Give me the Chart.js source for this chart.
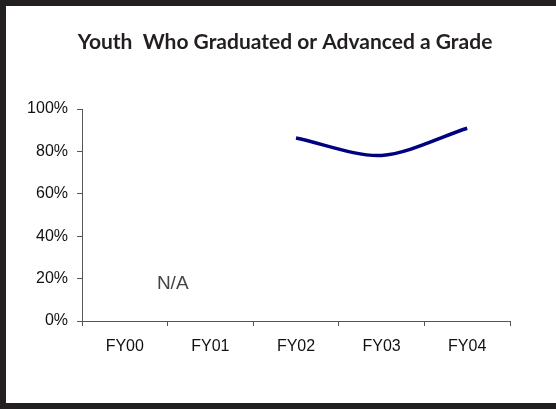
<!DOCTYPE html>
<html>
<head>
<meta charset="utf-8">
<script src="https://cdn.jsdelivr.net/npm/chart.js@4/dist/chart.umd.min.js"></script>
<style>
  html, body { margin: 0; padding: 0; background: #fff; }
  #wrap { width: 556px; height: 409px; position: relative; }
</style>
</head>
<body>
<div id="wrap"><canvas id="chart" width="556" height="409"></canvas></div>
<script>
let years = ['FY00', 'FY01', 'FY02', 'FY03', 'FY04'];
let graduated = [null, null, 86.3, 78.1, 90.9];
let yTicks = [0, 20, 40, 60, 80, 100];
let noteText = 'N/A';

// frame + N/A note
const framePlugin = {
    id: 'frame',
    beforeDraw(chart) {
        const c = chart.ctx;
        c.save();
        c.fillStyle = '#fff';
        c.fillRect(0, 0, chart.width, chart.height);
        c.restore();
    },
    afterDraw(chart) {
        const c = chart.ctx;
        const xs = chart.scales.x, ys = chart.scales.y;
        c.save();
        c.fillStyle = '#444';
        c.font = '19px "Liberation Sans", Arial, sans-serif';
        c.textAlign = 'center';
        c.textBaseline = 'middle';
        c.fillText(noteText, xs.getPixelForValue(0.56), ys.getPixelForValue(17.5));
        c.fillStyle = '#231f20';
        c.fillRect(0, 0, chart.width, 6);
        c.fillRect(0, 0, 6, chart.height);
        c.fillRect(0, chart.height - 6, chart.width, 6);
        c.restore();
    }
};

function getChart(){
    const ctx = document.getElementById('chart').getContext('2d');
    const chart = new Chart(ctx, {
        type: 'line',
        data: {
            labels: years,
            datasets: [{
                label: 'Youth Who Graduated or Advanced a Grade',
                data: graduated,
                borderColor: '#000080',
                backgroundColor: '#000080',
                borderWidth: 3.5,
                pointRadius: 0,
                tension: 0.3,
                fill: false
            }]
        },
        options: {
            responsive: false,
            animation: false,
            layout: { padding: { left: 20, right: 6, top: 0, bottom: 40 } },
            plugins: {
                legend: { display: false },
                tooltip: { enabled: false },
                title: {
                    display: true,
                    text: 'Youth  Who Graduated or Advanced a Grade',
                    color: '#231f20',
                    font: { family: 'Lato', size: 21, weight: 'bold' },
                    padding: { top: 29.5, bottom: 54.3 }
                }
            },
            scales: {
                x: {
                    offset: true,
                    afterFit(s) { s.height = 48; },
                    grid: { offset: true, drawOnChartArea: false, tickLength: 5, color: '#555' },
                    border: { color: '#555' },
                    ticks: { color: '#111', padding: 11, font: { family: '"Liberation Sans", Arial', size: 16 } }
                },
                y: {
                    min: 0,
                    max: 100,
                    afterFit(s) { s.width = 62; },
                    afterBuildTicks(s) { s.ticks = yTicks.map(v => ({ value: v })); },
                    grid: { drawOnChartArea: false, tickLength: 5, color: '#555' },
                    border: { color: '#555' },
                    ticks: {
                        color: '#111',
                        padding: 9,
                        font: { family: '"Liberation Sans", Arial', size: 16 },
                        callback: v => v + '%'
                    }
                },
                // empty spacer on the right
                yRight: {
                    position: 'right',
                    min: 0,
                    max: 100,
                    afterFit(s) { s.width = 40; },
                    grid: { display: false },
                    border: { display: false },
                    ticks: { display: false }
                }
            }
        },
        plugins: [framePlugin]
    });
    return chart;
}
getChart();
</script>
</body>
</html>
